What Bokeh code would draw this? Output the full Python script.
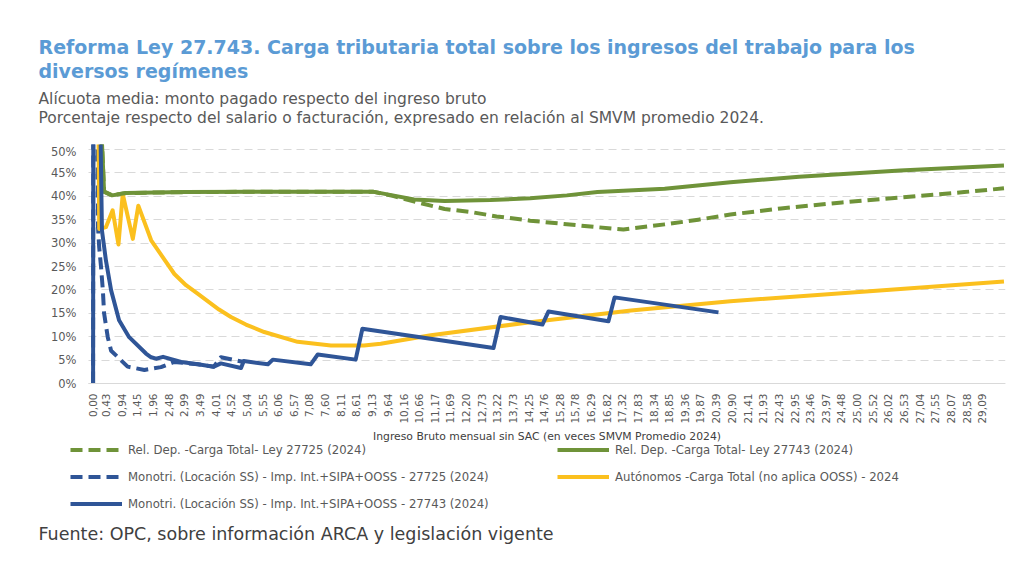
from bokeh.plotting import figure
from bokeh.layouts import column
from bokeh.models import (Label, Legend, LegendItem, FixedTicker, Grid,
                          CustomJSTickFormatter, PrintfTickFormatter, Range1d)
from bokeh.embed import file_html
from bokeh.resources import INLINE

FONT = "DejaVu Sans"
GREEN = "#6F9339"
BLUE = "#2F5597"
YELLOW = "#FBC01E"
GREY = "#595959"
W = 1016

# tick labels on the x axis (veces SMVM)
x_ticks = [0.00, 0.43, 0.94, 1.45, 1.96, 2.48, 2.99, 3.49, 4.01, 4.52, 5.04, 5.55,
           6.06, 6.57, 7.08, 7.60, 8.11, 8.61, 9.13, 9.64, 10.16, 10.66, 11.17, 11.69,
           12.20, 12.73, 13.22, 13.73, 14.25, 14.76, 15.28, 15.78, 16.29, 16.82, 17.32,
           17.83, 18.34, 18.85, 19.36, 19.87, 20.39, 20.90, 21.41, 21.93, 22.43, 22.95,
           23.46, 23.97, 24.48, 25.00, 25.52, 26.02, 26.53, 27.04, 27.55, 28.07, 28.58,
           29.09]
y_ticks = [0, 5, 10, 15, 20, 25, 30, 35, 40, 45, 50]

# Rel. Dep. - Carga Total - Ley 27725 (2024)
rd25_x = [0.2, 0.36, 0.62, 1.08, 3.0, 6.0, 9.15, 9.8, 10.8, 11.5, 12.4, 13.2, 14.3,
          15.4, 16.5, 17.35, 18.7, 19.8, 20.85, 22.5, 24.5, 26.5, 28.5, 29.8]
rd25_y = [65, 41.0, 40.2, 40.7, 40.9, 41.0, 41.0, 40.1, 38.4, 37.3, 36.6, 35.7, 34.8,
          34.1, 33.4, 32.9, 34.0, 35.0, 36.1, 37.4, 38.7, 39.8, 40.9, 41.7]

# Rel. Dep. - Carga Total - Ley 27743 (2024)
rd43_x = [0.2, 0.36, 0.62, 1.08, 3.0, 6.0, 9.15, 9.8, 10.5, 11.5, 13.0, 14.3, 15.5,
          16.5, 18.7, 20.85, 23.1, 26.4, 29.8]
rd43_y = [65, 41.0, 40.2, 40.7, 40.9, 41.0, 41.0, 40.2, 39.3, 39.0, 39.2, 39.6, 40.2,
          40.9, 41.6, 43.0, 44.2, 45.5, 46.6]

# Monotributo (Locación SS) - 27725 (2024)
mo25_x = [0.0, 0.02, 0.16, 0.20, 0.26, 0.32, 0.36, 0.48, 0.59, 0.75, 1.13, 1.68,
          2.22, 2.65, 3.43, 3.95, 4.18, 4.93]
mo25_y = [0, 150, 33.5, 29.1, 24.9, 19.9, 15.0, 9.9, 7.0, 6.0, 3.6, 2.9,
          3.5, 4.6, 4.1, 3.6, 5.6, 4.6]

# Autónomos - Carga Total (no aplica OOSS) - 2024
au_x = [0.16, 0.2, 0.42, 0.64, 0.83, 0.97, 1.30, 1.48, 1.90, 2.30, 2.66, 3.04, 3.42,
        4.12, 4.51, 5.0, 5.6, 6.69, 7.78, 8.86, 9.41, 11.05, 14.3, 17.6, 20.85, 25.4,
        29.8]
au_y = [70, 33.0, 33.4, 37.0, 29.7, 40.5, 30.9, 38.0, 30.6, 26.8, 23.4, 21.0, 19.2,
        15.8, 14.2, 12.6, 11.0, 8.9, 8.1, 8.1, 8.5, 10.3, 13.1, 15.6, 17.6, 19.7, 21.8]

# Monotributo (Locación SS) - 27743 (2024)
mo43_x = [0.0, 0.02, 0.29, 0.42, 0.59, 0.85, 1.18, 1.73, 1.90, 2.06, 2.29, 2.88, 3.43,
          3.95, 4.18, 4.84, 4.93, 5.72, 5.88, 7.12, 7.35, 8.59, 8.81, 13.10, 13.33,
          14.70, 14.90, 16.86, 17.06, 20.46]
mo43_y = [0, 150, 32.7, 26.3, 19.9, 13.5, 9.9, 6.4, 5.6, 5.3, 5.7, 4.6, 4.1,
          3.6, 4.3, 3.3, 4.8, 4.1, 5.1, 4.1, 6.2, 5.1, 11.7, 7.6, 14.2,
          12.6, 15.4, 13.3, 18.4, 15.2]

series = [
    ("Rel. Dep. -Carga Total- Ley 27725 (2024)", rd25_x, rd25_y, GREEN, "12 6"),
    ("Monotri. (Locación SS) - Imp. Int.+SIPA+OOSS - 27725 (2024)", mo25_x, mo25_y, BLUE, "12 6"),
    ("Autónomos -Carga Total (no aplica OOSS) - 2024", au_x, au_y, YELLOW, "solid"),
    ("Rel. Dep. -Carga Total- Ley 27743 (2024)", rd43_x, rd43_y, GREEN, "solid"),
    ("Monotri. (Locación SS) - Imp. Int.+SIPA+OOSS - 27743 (2024)", mo43_x, mo43_y, BLUE, "solid"),
]

X0, X1 = -0.15, 29.85   # visible plotting area of the chart

# header with title and subtitles
head = figure(width=W, height=144, x_range=Range1d(0, 1), y_range=Range1d(0, 1),
              x_axis_type=None, y_axis_type=None, output_backend="svg",
              toolbar_location=None, title=None, min_border=0, min_border_right=11)
head.outline_line_color = None
head.grid.visible = False
for txt, ty, size, style, color in [
    ("Reforma Ley 27.743. Carga tributaria total sobre los ingresos del trabajo para los",
     98, "19px", "bold", "#5B9BD5"),
    ("diversos regímenes", 74, "19px", "bold", "#5B9BD5"),
    ("Alícuota media: monto pagado respecto del ingreso bruto", 46, "15.5px", "normal", GREY),
    ("Porcentaje respecto del salario o facturación, expresado en relación al SMVM promedio 2024.",
     27, "15.5px", "normal", GREY),
]:
    head.add_layout(Label(x=38, y=ty, x_units="screen", y_units="screen", text=txt,
                          text_font=FONT, text_font_size=size, text_font_style=style,
                          text_color=color, text_baseline="middle"))

# main chart: the frame also holds the axes, legend and source below 0%
p = figure(width=W, height=424, x_range=Range1d(-3.029, X1), y_range=Range1d(-39.53, 51.07),
           output_backend="svg", toolbar_location=None, title=None,
           min_border=0, min_border_right=11)
p.outline_line_color = None
p.xgrid.grid_line_color = None

yt = FixedTicker(ticks=y_ticks)
p.yaxis.ticker = yt
p.yaxis.fixed_location = X0
p.yaxis.bounds = (0, 50)
p.ygrid.ticker = yt
p.ygrid.grid_line_color = "#D9D9D9"
p.ygrid.grid_line_dash = "8 5"
if "cross_bounds" in Grid.properties():
    p.ygrid.cross_bounds = (X0, X1)
p.yaxis.formatter = PrintfTickFormatter(format="%d%%")
p.yaxis.axis_line_color = None
p.yaxis.major_tick_line_color = None
p.yaxis.minor_tick_line_color = None
p.yaxis.major_label_text_font = FONT
p.yaxis.major_label_text_font_size = "11.5px"
p.yaxis.major_label_text_color = GREY
p.yaxis.major_label_standoff = 6

p.xaxis.ticker = FixedTicker(ticks=x_ticks)
p.xaxis.fixed_location = 0
p.xaxis.bounds = (X0, X1)
p.xaxis.formatter = CustomJSTickFormatter(code="return tick.toFixed(2).replace('.', ',')")
p.xaxis.major_label_orientation = 1.5708
p.xaxis.axis_line_color = "#D9D9D9"
p.xaxis.major_tick_line_color = None
p.xaxis.minor_tick_line_color = None
p.xaxis.major_label_text_font = FONT
p.xaxis.major_label_text_font_size = "10.5px"
p.xaxis.major_label_text_color = GREY
p.xaxis.major_label_standoff = 4
p.xaxis.axis_label = "Ingreso Bruto mensual sin SAC (en veces SMVM Promedio 2024)"
p.xaxis.axis_label_text_font = FONT
p.xaxis.axis_label_text_font_size = "10.8px"
p.xaxis.axis_label_text_font_style = "normal"
p.xaxis.axis_label_text_color = "#404040"
p.xaxis.axis_label_standoff = 3

items = {}
for name, xs, ys, color, dash in series:
    r = p.line(xs, ys, line_color=color, line_width=4, line_dash=dash, line_join="round")
    items[name] = LegendItem(label=name, renderers=[r])


def add_legend(names, x, y):
    p.add_layout(Legend(items=[items[n] for n in names], location=(x, y),
                        glyph_width=52, glyph_height=17, label_height=17, spacing=10,
                        padding=0, margin=0, label_standoff=6,
                        label_text_font=FONT, label_text_font_size="11.7px",
                        label_text_color=GREY, border_line_color=None,
                        background_fill_alpha=0))


add_legend([series[0][0], series[1][0], series[4][0]], 70, 56)
add_legend([series[3][0], series[2][0]], 557, 83)
p.add_layout(Label(x=38, y=35, x_units="screen", y_units="screen",
                   text="Fuente: OPC, sobre información ARCA y legislación vigente",
                   text_font=FONT, text_font_size="17.5px", text_color="#404040",
                   text_baseline="middle"))

open("out.html", "w").write(file_html(column(head, p, spacing=0), INLINE))
